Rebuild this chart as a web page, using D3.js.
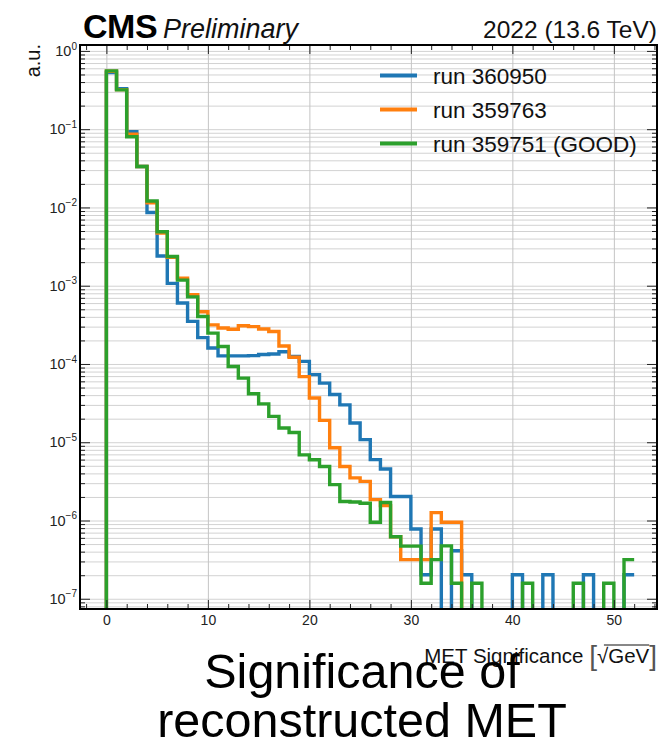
<!DOCTYPE html>
<html><head><meta charset="utf-8">
<script src="https://cdn.jsdelivr.net/npm/d3@7"></script>
<style>
body{margin:0;background:#fff}
svg{display:block}
text{font-family:"Liberation Sans",Arial,Helvetica,sans-serif}
</style>
</head><body>
<svg id="c" width="659" height="747"></svg>
<script>
// ---------------- data ----------------
const binLow = [0,1,2,3,4,5,6,7,8,9,10,11,12,13,14,15,16,17,18,19,20,21,22,23,24,25,
  26,27,28,29,30,31,32,33,34,35,36,37,38,39,40,41,42,43,44,45,46,47,48,49,50,51];
const binWidth = 1;

const run360950 = [0.53,0.33,0.093,0.0334,0.0086,0.0024,0.00107,6.0e-4,3.5e-4,2.17e-4,
  1.6e-4,1.27e-4,1.27e-4,1.27e-4,1.28e-4,1.32e-4,1.34e-4,1.43e-4,1.25e-4,1.08e-4,
  7.3e-5,5.7e-5,4.07e-5,3.0e-5,1.76e-5,1.08e-5,6.0e-6,4.55e-6,2.03e-6,2.03e-6,
  7.8e-7,2.03e-7,7.8e-7,0,4.1e-7,2.03e-7,0,0,0,0,
  2.03e-7,0,0,2.03e-7,0,0,0,2.03e-7,0,0,
  0,2.03e-7];
const run359763 = [0.55,0.32,0.086,0.0334,0.0115,0.0047,0.0023,0.00125,7.7e-4,4.65e-4,
  3.16e-4,2.88e-4,2.78e-4,3.08e-4,3.0e-4,2.8e-4,2.6e-4,1.7e-4,1.22e-4,6.9e-5,
  3.67e-5,1.9e-5,8.5e-6,4.9e-6,3.5e-6,3.16e-6,1.85e-6,1.55e-6,6.2e-7,3.16e-7,
  3.16e-7,3.16e-7,1.26e-6,9.5e-7,9.5e-7,0,0,0,0,0,
  0,0,0,0,0,0,0,0,0,0,
  0,0];
const run359751 = [0.556,0.318,0.080,0.0334,0.0121,0.0049,0.00236,0.00118,7.2e-4,4.04e-4,
  2.48e-4,1.67e-4,9.3e-5,6.6e-5,4.17e-5,3.09e-5,2.14e-5,1.52e-5,1.33e-5,6.9e-6,
  5.97e-6,4.9e-6,2.87e-6,1.75e-6,1.72e-6,1.66e-6,9.5e-7,1.7e-6,6.2e-7,4.7e-7,
  4.7e-7,1.58e-7,3.16e-7,4.74e-7,1.58e-7,0,1.58e-7,0,0,0,
  0,1.58e-7,0,0,0,0,1.58e-7,0,0,1.58e-7,
  0,3.16e-7];

const seriesNames = ["run 360950","run 359763","run 359751 (GOOD)"];
const seriesColors = ["#1f77b4","#ff7f0e","#2ca02c"];
const xMajorTicks = [0,10,20,30,40,50];
const xMinorTicks = [-2,2,4,6,8,12,14,16,18,22,24,26,28,32,34,36,38,42,44,46,48,52,54];
const yMajorTicks = [1,1e-1,1e-2,1e-3,1e-4,1e-5,1e-6,1e-7];
const yMajorLabels = ["0","−1","−2","−3","−4","−5","−6","−7"];

// ---------------- layout ----------------
const L = 80, T = 45, R = 657, B = 609;
const svg = d3.select("#c");
const x = d3.scaleLinear().domain([-2.6, 54.25]).range([L, R]);
const y = d3.scaleLog().domain([7.4e-8, 1.19]).range([B, T]);

const yMinorTicks = [];
for (let e = -8; e <= 0; e++) for (let m = 2; m <= 9; m++) {
  const v = m * Math.pow(10, e);
  if (v >= 7.4e-8 && v <= 1.19) yMinorTicks.push(v);
}

// gridlines
const gy = svg.append("g").attr("transform", `translate(${L},0)`)
  .call(d3.axisLeft(y).tickValues(yMajorTicks.concat(yMinorTicks)).tickSize(-(R - L)).tickFormat(""));
gy.select(".domain").remove();
gy.selectAll("line").attr("stroke", "#d2d2d2").attr("stroke-width", 1);
const gx = svg.append("g").attr("transform", `translate(0,${B})`)
  .call(d3.axisBottom(x).tickValues(xMajorTicks).tickSize(-(B - T)).tickFormat(""));
gx.select(".domain").remove();
gx.selectAll("line").attr("stroke", "#c4c4c4").attr("stroke-width", 1);

// clip
svg.append("clipPath").attr("id", "clip").append("rect")
  .attr("x", L).attr("y", T).attr("width", R - L).attr("height", B - T);

// histograms
function stepPath(vals) {
  const yy = v => v > 0 ? y(v) : B + 20;
  const pts = [[x(binLow[0]), B + 20]];
  vals.forEach((v, i) => {
    pts.push([x(binLow[i]), yy(v)]);
    pts.push([x(binLow[i] + binWidth), yy(v)]);
  });
  return d3.line()(pts);
}
const gl = svg.append("g").attr("clip-path", "url(#clip)");
[run360950, run359763, run359751].forEach((vals, i) => {
  gl.append("path").attr("d", stepPath(vals)).attr("fill", "none")
    .attr("stroke", seriesColors[i]).attr("stroke-width", 3.4)
    .attr("stroke-linejoin", "miter");
});

// axes ticks (inward)
function styleAxis(g) { g.select(".domain").remove(); g.selectAll("line").attr("stroke", "#222").attr("stroke-width", 1); }
const axB = svg.append("g").attr("transform", `translate(0,${B})`)
  .call(d3.axisBottom(x).tickValues(xMajorTicks).tickSizeInner(-9).tickSizeOuter(0).tickPadding(6));
styleAxis(axB);
axB.selectAll("text").attr("font-size", 14).attr("fill", "#222")
  .attr("font-family", "Liberation Sans, Arial, sans-serif");
styleAxis(svg.append("g").attr("transform", `translate(0,${B})`)
  .call(d3.axisBottom(x).tickValues(xMinorTicks).tickSizeInner(-5).tickSizeOuter(0).tickFormat("")));
styleAxis(svg.append("g").attr("transform", `translate(0,${T})`)
  .call(d3.axisTop(x).tickValues(xMajorTicks).tickSizeInner(-9).tickSizeOuter(0).tickFormat("")));
styleAxis(svg.append("g").attr("transform", `translate(0,${T})`)
  .call(d3.axisTop(x).tickValues(xMinorTicks).tickSizeInner(-5).tickSizeOuter(0).tickFormat("")));

const axL = svg.append("g").attr("transform", `translate(${L},0)`)
  .call(d3.axisLeft(y).tickValues(yMajorTicks).tickSizeInner(-10).tickSizeOuter(0).tickPadding(3).tickFormat(""));
styleAxis(axL);
axL.selectAll(".tick").each(function(d, i) {
  const t = d3.select(this).append("text").attr("x", -3).attr("dy", "0.32em")
    .attr("text-anchor", "end").attr("fill", "#222").attr("font-size", 14.5);
  t.append("tspan").text("10");
  t.append("tspan").attr("dy", -6.5).attr("font-size", 10).text(yMajorLabels[i]);
});
styleAxis(svg.append("g").attr("transform", `translate(${L},0)`)
  .call(d3.axisLeft(y).tickValues(yMinorTicks).tickSizeInner(-5).tickSizeOuter(0).tickFormat("")));
styleAxis(svg.append("g").attr("transform", `translate(${R},0)`)
  .call(d3.axisRight(y).tickValues(yMajorTicks).tickSizeInner(-10).tickSizeOuter(0).tickFormat("")));
styleAxis(svg.append("g").attr("transform", `translate(${R},0)`)
  .call(d3.axisRight(y).tickValues(yMinorTicks).tickSizeInner(-5).tickSizeOuter(0).tickFormat("")));

// frame
svg.append("rect").attr("x", L).attr("y", T).attr("width", R - L).attr("height", B - T)
  .attr("fill", "none").attr("stroke", "#000").attr("stroke-width", 2);

// legend
const lg = svg.append("g");
seriesNames.forEach((n, i) => {
  const yy = 75.5 + i * 34;
  lg.append("line").attr("x1", 380).attr("x2", 417).attr("y1", yy).attr("y2", yy)
    .attr("stroke", seriesColors[i]).attr("stroke-width", 3.8);
  lg.append("text").attr("x", 433).attr("y", yy + 8).attr("font-size", 22.5)
    .attr("fill", "#111").text(n);
});

// header
svg.append("text").attr("x", 83).attr("y", 38).attr("font-size", 34)
  .attr("font-weight", "bold").attr("fill", "#000").attr("letter-spacing", -0.5).text("CMS");
svg.append("text").attr("x", 163).attr("y", 38).attr("font-size", 27)
  .attr("font-style", "italic").attr("fill", "#111").text("Preliminary");
svg.append("text").attr("x", 657).attr("y", 38).attr("font-size", 24.5)
  .attr("text-anchor", "end").attr("fill", "#111").text("2022 (13.6 TeV)");

// y label
svg.append("text").attr("transform", "translate(40,44) rotate(-90)")
  .attr("text-anchor", "end").attr("font-size", 20).attr("fill", "#111").text("a.u.");

// x label
const xl = svg.append("text").attr("x", 657).attr("y", 663).attr("text-anchor", "end")
  .attr("font-size", 20.5).attr("fill", "#111");
xl.append("tspan").text("MET Significance ");
xl.append("tspan").attr("font-size", 28).attr("font-weight", "300").attr("fill", "#555").attr("dy", 2).text("[");
xl.append("tspan").attr("dy", -2).text("\u221A");
xl.append("tspan").text("GeV");
xl.append("tspan").attr("font-size", 28).attr("fill", "#555").attr("dy", 2).text("]");
// overline over GeV
{
  const node = xl.node();
  const n = node.getNumberOfChars();
  const sqrtIdx = "MET Significance [".length;
  const s = node.getStartPositionOfChar(sqrtIdx);
  const e = node.getEndPositionOfChar(n - 2);
  svg.append("line").attr("x1", s.x + 7).attr("x2", e.x).attr("y1", 645).attr("y2", 645)
    .attr("stroke", "#111").attr("stroke-width", 1);
}

// caption
svg.append("text").attr("x", 362).attr("y", 688).attr("text-anchor", "middle")
  .attr("font-size", 48.5).attr("fill", "#000").text("Significance of");
svg.append("text").attr("x", 362).attr("y", 737).attr("text-anchor", "middle")
  .attr("font-size", 48.5).attr("fill", "#000").text("reconstructed MET");
</script>
</body></html>
